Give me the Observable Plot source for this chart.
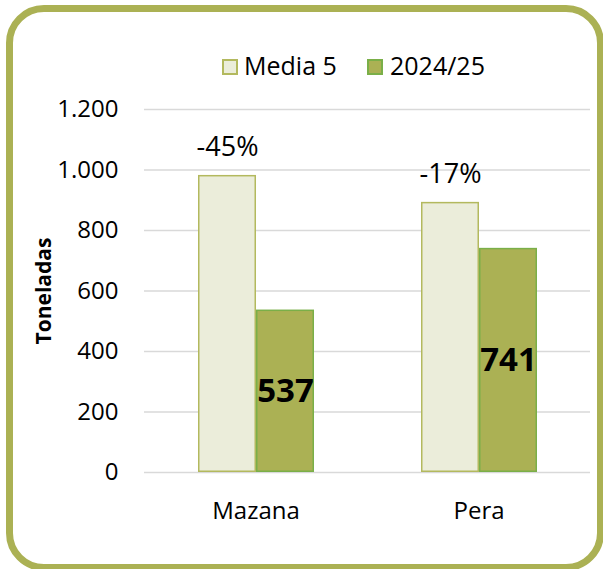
<!DOCTYPE html>
<html><head><meta charset="utf-8">
<script src="https://cdn.jsdelivr.net/npm/d3@7"></script>
<script src="https://cdn.jsdelivr.net/npm/@observablehq/plot@0.6"></script>
<style>
body{margin:0;background:#fff;}
#wrap{position:relative;width:603px;height:569px;font-family:"Open Sans",sans-serif;overflow:hidden;background:#fff;}
#frame{position:absolute;left:6px;top:5px;width:598px;height:566px;box-sizing:border-box;border:7px solid #abb154;border-radius:38px;}
#chart{position:absolute;left:0;top:0;}
.leg{position:absolute;font-size:25px;line-height:25px;color:#000;white-space:nowrap;}
.sw{position:absolute;box-sizing:border-box;width:16px;height:16px;border:2px solid;}
#ytitle{position:absolute;left:43px;top:291px;transform:translate(-50%,-50%) rotate(-90deg);font-size:21px;font-weight:bold;white-space:nowrap;}
</style></head>
<body>
<div id="wrap">
  <div id="frame"></div>
  <div id="chart"></div>
  <div class="sw" style="left:222px;top:59px;background:#ebedda;border-color:#b3b95e"></div>
  <div class="leg" style="left:244px;top:53px">Media 5</div>
  <div class="sw" style="left:367px;top:59px;background:#abb154;border-color:#7aaf48"></div>
  <div class="leg" style="left:390px;top:53px">2024/25</div>
  <div id="ytitle">Toneladas</div>
</div>
<script>
const categories = ["Mazana", "Pera"];
const series = ["Media 5", "2024/25"];
const media5 = [982, 893];
const current = [537, 741];
const changeLabels = ["-45%", "-17%"];
const yTicks = [0, 200, 400, 600, 800, 1000, 1200];
const yTickLabels = ["0", "200", "400", "600", "800", "1.000", "1.200"];

const mediaRows = categories.map((c, i) => ({cat: c, serie: series[0], value: media5[i], label: changeLabels[i]}));
const currentRows = categories.map((c, i) => ({cat: c, serie: series[1], value: current[i]}));

const chart = Plot.plot({
  width: 603, height: 569,
  marginLeft: 143, marginRight: 13, marginTop: 109, marginBottom: 97,
  style: {fontFamily: "'Open Sans', sans-serif", background: "transparent", overflow: "visible", color: "#000"},
  fx: {domain: categories, padding: 0, label: null},
  x: {domain: series, paddingInner: 0, paddingOuter: 0.894, axis: null},
  y: {domain: [0, 1200], axis: null},
  marks: [
    Plot.gridY(yTicks, {stroke: "#d9d9d9", strokeOpacity: 1, strokeWidth: 1.5}),
    Plot.axisY(yTicks, {tickSize: 0, tickPadding: 26, fontSize: 24, label: null,
      tickFormat: d => yTickLabels[yTicks.indexOf(d)]}),
    Plot.axisFx({anchor: "bottom", tickSize: 0, tickPadding: 29, fontSize: 24, label: null}),
    Plot.barY(mediaRows, {fx: "cat", x: "serie", y: "value", fill: "#ebedda", stroke: "#b3b95e", strokeWidth: 1.5, inset: 0.75}),
    Plot.barY(currentRows, {fx: "cat", x: "serie", y: "value", fill: "#abb154", stroke: "#7aaf48", strokeWidth: 1.5, inset: 0.75}),
    Plot.text(mediaRows, {fx: "cat", x: "serie", y: "value", text: "label", lineAnchor: "bottom", dy: -19, fontSize: 27, fill: "#000"}),
    Plot.text(currentRows, {fx: "cat", x: "serie", y: d => d.value / 2, text: d => String(d.value), fontSize: 33, fontWeight: "bold", fill: "#000"})
  ]
});
document.getElementById("chart").appendChild(chart);
</script>
</body></html>
